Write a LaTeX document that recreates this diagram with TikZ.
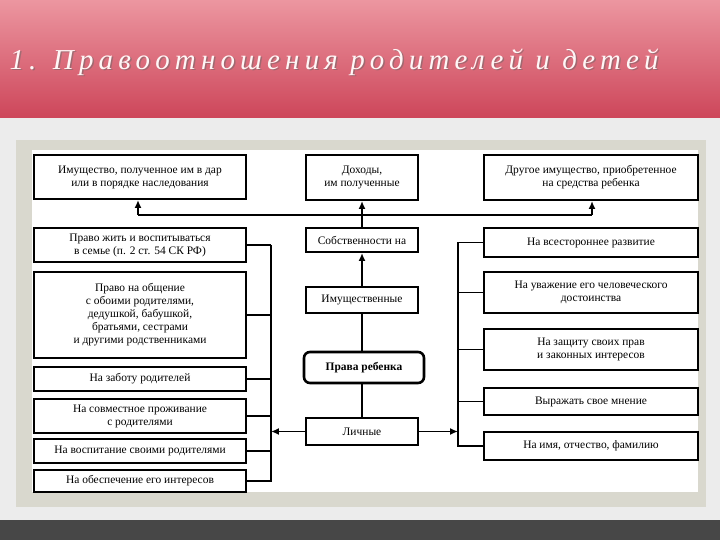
\documentclass[tikz,border=0pt]{standalone}
\usepackage{fontspec}
\usetikzlibrary{arrows.meta}
\setmainfont{Liberation Serif}
\newfontfamily\titlefont[LetterSpace=18]{Liberation Serif}
\begin{document}
\begin{tikzpicture}[x=1bp,y=-1bp,
  bx/.style={draw,line width=2pt,inner sep=0pt,align=center,font=\fontsize{11.5}{13}\selectfont},
  ln/.style={line width=2pt},
  ar/.style={line width=2pt,-{Latex[length=8pt,width=7pt]}}]
\definecolor{tpink}{RGB}{236,150,160}
\definecolor{tred}{RGB}{205,70,90}
\useasboundingbox (0,0) rectangle (720,540);
\fill[top color=tpink,bottom color=tred] (0,0) rectangle (720,118);
\fill[gray!15] (0,118) rectangle (720,520);
\fill[black!72] (0,520) rectangle (720,540);
\fill[black!18!white!95!yellow] (16,140) rectangle (706,507);
\fill[white] (32,150) rectangle (698,492);
\node[anchor=west,text=black!60,opacity=0.5,font=\titlefont\itshape\fontsize{29}{32}\selectfont] at (7.5,63.5) {1. Правоотношения родителей и детей};
\node[anchor=west,text=white!85!pink,font=\titlefont\itshape\fontsize{29}{32}\selectfont] (title) at (6,62) {1. Правоотношения родителей и детей};
% top row
\node[bx,minimum width=212bp,minimum height=44bp] (t1) at (140,177) {Имущество, полученное им в дар\\или в порядке наследования};
\node[bx,minimum width=112bp,minimum height=45bp] (t2) at (362,177.5) {Доходы,\\им полученные};
\node[bx,minimum width=214bp,minimum height=45bp] (t3) at (591,177.5) {Другое имущество, приобретенное\\на средства ребенка};
% middle
\node[bx,minimum width=112bp,minimum height=24bp] (m1) at (362,240) {Собственности на};
\node[bx,minimum width=112bp,minimum height=26bp] (m2) at (362,300) {Имущественные};
\node[bx,line width=2.6pt,rounded corners=6pt,minimum width=120bp,minimum height=31bp,font=\bfseries\fontsize{11.5}{13}\selectfont] (m3) at (364,367.5) {Права ребенка};
\node[bx,minimum width=112bp,minimum height=27bp] (m4) at (362,431.5) {Личные};
% left column
\node[bx,minimum width=212bp,minimum height=34bp] (l1) at (140,245) {Право жить и воспитываться\\в семье (п. 2 ст. 54 СК РФ)};
\node[bx,minimum width=212bp,minimum height=86bp] (l2) at (140,315) {Право на общение\\с обоими родителями,\\дедушкой, бабушкой,\\братьями, сестрами\\и другими родственниками};
\node[bx,minimum width=212bp,minimum height=24bp] (l3) at (140,379) {На заботу родителей};
\node[bx,minimum width=212bp,minimum height=34bp] (l4) at (140,416) {На совместное проживание\\с родителями};
\node[bx,minimum width=212bp,minimum height=24bp] (l5) at (140,451) {На воспитание своими родителями};
\node[bx,minimum width=212bp,minimum height=22bp] (l6) at (140,481) {На обеспечение его интересов};
% right column
\node[bx,minimum width=214bp,minimum height=29bp] (r1) at (591,242.5) {На всестороннее развитие};
\node[bx,minimum width=214bp,minimum height=41bp] (r2) at (591,292.5) {На уважение его человеческого\\достоинства};
\node[bx,minimum width=214bp,minimum height=41bp] (r3) at (591,349.5) {На защиту своих прав\\и законных интересов};
\node[bx,minimum width=214bp,minimum height=27bp] (r4) at (591,401.5) {Выражать свое мнение};
\node[bx,minimum width=214bp,minimum height=28bp] (r5) at (591,446) {На имя, отчество, фамилию};
% connectors
\coordinate (hl) at (138,215);
\coordinate (hr) at (592,215);
\coordinate (lb) at (271,431.5);
\coordinate (rb) at (458,431.5);
\draw[ln] (hl) -- (hr);
\draw[ar] (hl) -- (hl |- t1.south);
\draw[ar] (hr) -- (hr |- t3.south);
\draw[ar] (m1.north) -- (t2.south);
\draw[ar] (m2.north) -- (m1.south);
\draw[ln] (m3.north -| m2.south) -- (m2.south);
\draw[ln] (m3.south -| m4.north) -- (m4.north);
\draw[ar] (m4.west) -- (lb);
\draw[ar] (m4.east) -- (rb);
\draw[ln] (271,245) -- (271,482);
\draw[ln] (458,242.5) -- (458,447);
\foreach \n in {l1,l2,l3,l4,l5,l6} \draw[ln] (\n.east) -- (\n.east -| lb);
\foreach \n in {r1,r2,r3,r4,r5} \draw[ln] (\n.west) -- (\n.west -| rb);
\end{tikzpicture}
\end{document}
